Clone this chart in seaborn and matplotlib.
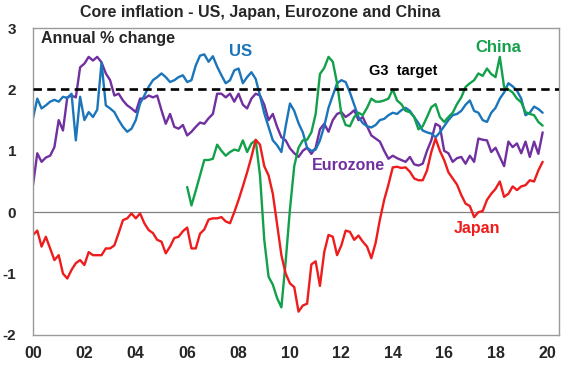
import numpy as np
import pandas as pd
import matplotlib
matplotlib.use("Agg")
import matplotlib.pyplot as plt
import seaborn as sns

# ---------------------------------------------------------------
# DATA  (bi-monthly readings, Jan 2000 .. Nov 2019, annual % change)
# ---------------------------------------------------------------
years = 2000 + np.arange(120) / 6.0

us = [
    1.53, 1.85, 1.69, 1.74, 1.80, 1.83,   # 2000
    1.80, 1.88, 1.86, 1.93, 1.17, 1.88,   # 2001
    1.50, 1.63, 1.55, 1.67, 2.44, 1.74,   # 2002
    1.69, 1.63, 1.50, 1.39, 1.31, 1.36,   # 2003
    1.50, 1.77, 1.90, 2.04, 2.15, 2.20,   # 2004
    2.26, 2.20, 2.12, 2.15, 2.20, 2.23,   # 2005
    2.12, 2.15, 2.39, 2.55, 2.57, 2.45,   # 2006
    2.54, 2.37, 2.23, 2.10, 2.15, 2.31,   # 2007
    2.34, 2.10, 2.20, 2.28, 2.17, 1.90,   # 2008
    1.61, 1.39, 1.17, 1.09, 0.98, 1.40,   # 2009
    1.77, 1.65, 1.45, 1.30, 1.05, 1.00,   # 2010
    1.02, 1.17, 1.40, 1.70, 1.90, 2.10,   # 2011
    2.15, 2.12, 1.95, 1.75, 1.55, 1.45,   # 2012
    1.40, 1.38, 1.42, 1.50, 1.52, 1.58,   # 2013
    1.62, 1.60, 1.66, 1.70, 1.65, 1.55,   # 2014
    1.45, 1.33, 1.30, 1.28, 1.22, 1.30,   # 2015
    1.40, 1.50, 1.58, 1.60, 1.65, 1.75,   # 2016
    1.82, 1.65, 1.62, 1.50, 1.47, 1.62,   # 2017
    1.70, 1.85, 1.95, 2.10, 2.05, 1.98,   # 2018
    1.85, 1.58, 1.62, 1.72, 1.68, 1.62,   # 2019
]

japan = [
    -0.37, -0.30, -0.56, -0.40, -0.59, -0.78,   # 2000
    -0.70, -1.00, -1.08, -0.94, -0.83, -0.78,   # 2001
    -0.86, -0.65, -0.70, -0.70, -0.70, -0.59,   # 2002
    -0.59, -0.54, -0.34, -0.13, -0.10, -0.02,   # 2003
    -0.10, -0.02, -0.18, -0.29, -0.34, -0.45,   # 2004
    -0.48, -0.67, -0.56, -0.42, -0.40, -0.31,   # 2005
    -0.25, -0.59, -0.59, -0.35, -0.28, -0.12,   # 2006
    -0.10, -0.10, -0.08, -0.15, -0.18, 0.00,    # 2007
    0.20, 0.42, 0.65, 0.90, 1.18, 1.10,         # 2008
    0.75, 0.60, 0.30, -0.20, -0.70, -1.00,      # 2009
    -1.16, -1.22, -1.62, -1.52, -1.49, -0.85,   # 2010
    -0.80, -1.20, -0.65, -0.37, -0.40, -0.70,   # 2011
    -0.54, -0.30, -0.32, -0.45, -0.38, -0.48,   # 2012
    -0.56, -0.75, -0.50, -0.12, 0.20, 0.45,     # 2013
    0.73, 0.74, 0.72, 0.73, 0.66, 0.55,         # 2014
    0.52, 0.52, 0.68, 0.98, 1.20, 1.00,         # 2015
    0.85, 0.65, 0.55, 0.45, 0.28, 0.14,         # 2016
    0.10, -0.08, 0.00, 0.02, 0.20, 0.30,        # 2017
    0.38, 0.50, 0.25, 0.30, 0.42, 0.36,         # 2018
    0.42, 0.44, 0.52, 0.50, 0.68, 0.82,         # 2019
]

eurozone = [
    0.44, 0.96, 0.82, 0.89, 0.92, 1.06,   # 2000
    1.50, 1.33, 1.87, 1.90, 1.87, 2.36,   # 2001
    2.42, 2.53, 2.47, 2.53, 2.44, 2.26,   # 2002
    2.15, 1.90, 1.93, 1.82, 1.74, 1.69,   # 2003
    1.63, 1.85, 1.85, 1.90, 1.87, 1.90,   # 2004
    1.66, 1.44, 1.60, 1.39, 1.36, 1.42,   # 2005
    1.25, 1.31, 1.39, 1.46, 1.44, 1.53,   # 2006
    1.60, 1.93, 1.93, 1.87, 1.93, 1.80,   # 2007
    1.93, 1.75, 1.69, 1.85, 1.93, 1.90,   # 2008
    1.75, 1.50, 1.60, 1.39, 1.22, 1.17,   # 2009
    1.04, 0.96, 0.90, 1.00, 1.05, 0.95,   # 2010
    1.05, 1.35, 1.44, 1.31, 1.50, 1.60,   # 2011
    1.63, 1.55, 1.60, 1.66, 1.50, 1.55,   # 2012
    1.40, 1.25, 1.20, 1.15, 1.00, 0.87,   # 2013
    0.92, 0.88, 0.85, 0.82, 0.90, 0.78,   # 2014
    0.76, 0.79, 1.00, 1.17, 1.44, 1.40,   # 2015
    1.00, 0.96, 0.82, 0.88, 0.90, 0.79,   # 2016
    0.92, 0.82, 1.20, 1.18, 1.17, 0.98,   # 2017
    1.05, 0.90, 0.75, 1.15, 1.06, 1.12,   # 2018
    0.96, 1.15, 0.90, 1.15, 0.95, 1.30,   # 2019
]

china = [np.nan] * 36 + [
    0.41, 0.11, 0.35, 0.60, 0.85, 0.85,       # 2006
    0.87, 1.10, 1.00, 0.92, 0.98, 1.02,       # 2007
    1.00, 1.17, 0.98, 1.12, 1.17, 0.60,       # 2008
    -0.45, -1.05, -1.18, -1.40, -1.55, -0.80, # 2009
    0.05, 0.75, 1.05, 1.17, 1.18, 1.30,       # 2010
    1.60, 2.25, 2.35, 2.53, 2.45, 2.10,       # 2011
    1.60, 1.42, 1.40, 1.55, 1.62, 1.58,       # 2012
    1.70, 1.85, 1.80, 1.80, 1.82, 1.85,       # 2013
    2.00, 1.82, 1.76, 1.65, 1.63, 1.55,       # 2014
    1.35, 1.40, 1.55, 1.71, 1.76, 1.55,       # 2015
    1.47, 1.55, 1.62, 1.76, 1.87, 2.04,       # 2016
    2.10, 2.15, 2.26, 2.22, 2.34, 2.25,       # 2017
    2.20, 2.53, 2.04, 2.00, 1.95, 1.85,       # 2018
    1.79, 1.63, 1.60, 1.58, 1.47, 1.41,       # 2019
]

series_names = ["Eurozone", "US", "China", "Japan"]
colours = {"US": "#1b75bb", "Japan": "#ee1c1c",
           "Eurozone": "#7030a0", "China": "#12a04a"}

g3_target = 2.0
tick_years = list(range(2000, 2021, 2))
tick_labels = [f"{y % 100:02d}" for y in tick_years]

# ---------------------------------------------------------------
# PLOT
# ---------------------------------------------------------------
sns.set_theme(style="white")
plt.rcParams["font.family"] = ["Liberation Sans", "DejaVu Sans"]
plt.rcParams["font.weight"] = "bold"

W, H = 570, 369
fig = plt.figure(figsize=(W / 100, H / 100), dpi=100)
ax = fig.add_axes([33 / W, 1 - 335 / H, (559 - 33) / W, (335 - 28) / H])

df = pd.DataFrame({
    "year": np.tile(years, 4),
    "value": np.concatenate([eurozone, us, china, japan]),
    "series": np.repeat(series_names, len(years)),
}).dropna()

sns.lineplot(data=df, x="year", y="value", hue="series",
             hue_order=series_names, palette=colours, estimator=None,
             linewidth=1.7, legend=False, ax=ax)

ax.axhline(0, color="#808080", linewidth=0.9, zorder=0)
ax.axhline(g3_target, color="black", linewidth=1.9, dashes=(3.2, 2.0), zorder=5)

ax.set_xlim(2000, 2020.47)
ax.set_ylim(-2, 3)
ax.set_xticks(tick_years)
ax.set_xticklabels(tick_labels)
ax.set_yticks([-2, -1, 0, 1, 2, 3])
ax.set_yticklabels(["-2", "-1", "0", "1", "2", "3"])
ax.set_xlabel("")
ax.set_ylabel("")
ax.tick_params(axis="x", direction="in", length=4, width=0.8,
               color="#808080", labelsize=11.5, pad=8)
ax.tick_params(axis="y", length=0, labelsize=11, pad=12)
for lab in ax.get_xticklabels() + ax.get_yticklabels():
    lab.set_fontweight("bold")
for sp in ax.spines.values():
    sp.set_color("#9a9a9a")
    sp.set_linewidth(1.0)


def px_text(x, y, s, **kw):
    fig.text(x / W, 1 - y / H, s, fontweight="bold", va="center", **kw)


px_text(260, 12, "Core inflation - US, Japan, Eurozone and China",
        ha="center", fontsize=11.5)
px_text(41, 38, "Annual % change", ha="left", fontsize=11.5)
px_text(241, 52, "US", ha="center", fontsize=12, color=colours["US"])
px_text(403, 71, "G3  target", ha="center", fontsize=10.5, color="black")
px_text(498, 47, "China", ha="center", fontsize=12, color=colours["China"])
px_text(348, 165, "Eurozone", ha="center", fontsize=11.5, color=colours["Eurozone"])
px_text(477, 228, "Japan", ha="center", fontsize=11.5, color=colours["Japan"])

fig.savefig("out.png", dpi=100)
